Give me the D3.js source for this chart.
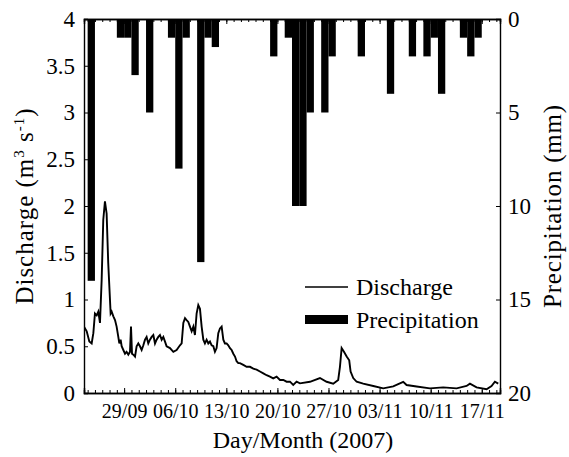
<!DOCTYPE html>
<html><head><meta charset="utf-8">
<script src="https://cdn.jsdelivr.net/npm/d3@7"></script>
<style>
html,body{margin:0;padding:0;background:#fff;}
svg text{font-family:"Liberation Serif","Tinos","Times New Roman","DejaVu Serif",serif;fill:#000;}
</style></head>
<body><svg id="c" width="569" height="457"></svg>
<script>
// ---- data ----
const precipDates = ["2007-09-24","2007-09-28","2007-09-29","2007-09-30","2007-10-02","2007-10-05","2007-10-06","2007-10-07","2007-10-09","2007-10-10","2007-10-11","2007-10-19","2007-10-21","2007-10-22","2007-10-23","2007-10-24","2007-10-26","2007-10-27","2007-10-31","2007-11-04","2007-11-07","2007-11-09","2007-11-10","2007-11-11","2007-11-14","2007-11-15","2007-11-16"];
const precipMm = [14,1,1,3,5,1,8,1,13,1,1.5,2,1,10,10,5,5,2,2,4,2,2,1,4,1,2,1];
// discharge: days since 2007-09-24 00:00
const dischargeDay = [-0.5,-0.13,0.23,0.55,0.78,1.0,1.24,1.46,1.69,1.92,2.14,2.37,2.6,2.82,3.15,
 3.29,3.52,3.75,3.97,4.2,4.34,4.52,4.66,4.89,5.12,5.34,5.57,5.8,5.94,6.08,6.26,6.49,6.71,6.94,7.17,7.4,7.63,7.86,8.08,8.31,8.54,8.77,9.0,9.23,9.45,9.68,9.91,10.14,10.37,10.6,10.82,11.28,11.74,12.19,12.65,12.88,13.11,13.34,13.56,13.79,14.02,14.25,14.48,14.7,14.93,15.16,15.39,15.62,15.85,16.07,16.3,16.53,16.76,16.99,17.22,17.44,17.67,17.9,18.13,18.36,18.59,18.81,19.04,19.27,19.5,19.73,19.96,20.19,20.41,20.64,20.87,21.33,21.78,22.24,22.7,23.15,23.61,24.07,24.52,24.98,25.43,25.89,26.35,26.81,27.26,27.72,28.17,28.63,29.09,
 30.46,31.83,32.74,33.65,34.33,34.57,34.8,35.12,35.49,35.84,36.03,36.39,36.86,37.76,39.13,40.5,41.87,43.24,43.7,45.07,46.9,48.72,50.55,51.92,52.38,53.29,54.66,55.34,55.8,56.26];
const dischargeValue = [0.71,0.66,0.55,0.53,0.64,0.85,0.83,0.87,0.75,1.21,1.85,2.05,1.92,1.39,0.85,
 0.87,0.82,0.78,0.71,0.6,0.53,0.57,0.5,0.46,0.42,0.44,0.41,0.44,0.71,0.42,0.41,0.39,0.5,0.53,0.5,0.46,0.51,0.57,0.6,0.53,0.57,0.6,0.62,0.53,0.57,0.6,0.62,0.57,0.6,0.55,0.5,0.48,0.44,0.46,0.51,0.53,0.75,0.8,0.78,0.76,0.71,0.66,0.71,0.62,0.85,0.94,0.9,0.71,0.57,0.53,0.57,0.53,0.55,0.51,0.5,0.44,0.48,0.64,0.69,0.71,0.57,0.53,0.53,0.51,0.48,0.46,0.42,0.39,0.34,0.32,0.32,0.3,0.28,0.28,0.26,0.25,0.23,0.21,0.19,0.175,0.157,0.175,0.139,0.139,0.121,0.121,0.086,0.121,0.103,
 0.12,0.16,0.12,0.1,0.14,0.28,0.48,0.44,0.39,0.35,0.23,0.16,0.12,0.1,0.075,0.05,0.07,0.12,0.085,0.07,0.05,0.06,0.05,0.075,0.1,0.06,0.04,0.075,0.12,0.1];
const labelDates = ["2007-09-29","2007-10-06","2007-10-13","2007-10-20","2007-10-27","2007-11-03","2007-11-10","2007-11-17"];
const dischargeTicks = [0,0.5,1,1.5,2,2.5,3,3.5,4];
const precipTicks = [0,5,10,15,20];

// ---- layout ----
const L=84,R=500,T=19,B=393;
const svg=d3.select("#c");
const parse=d3.utcParse("%Y-%m-%d");
const base=Date.UTC(2007,8,24);
const x=d3.scaleUtc().domain([new Date(Date.UTC(2007,8,23,12)),new Date(Date.UTC(2007,10,19,12))]).range([L,R]);
const y=d3.scaleLinear().domain([0,4]).range([B,T]);
const yP=d3.scaleLinear().domain([0,20]).range([T,B]);

svg.append("clipPath").attr("id","pc").append("rect").attr("x",L).attr("y",T).attr("width",R-L).attr("height",B-T);

// bars
svg.append("g").attr("clip-path","url(#pc)").selectAll("rect").data(precipDates.map((d,i)=>({d:parse(d),v:precipMm[i]})))
  .join("rect")
  .attr("x",d=>x(d.d)).attr("width",d=>x(d3.utcDay.offset(d.d,1))-x(d.d))
  .attr("y",yP(0)).attr("height",d=>yP(d.v)-yP(0)).attr("fill","#000");

// line
const pts=dischargeDay.map((d,i)=>({t:new Date(base+d*864e5),v:dischargeValue[i]}));
svg.append("path").attr("clip-path","url(#pc)").datum(pts)
  .attr("d",d3.line().x(d=>x(d.t)).y(d=>y(d.v)))
  .attr("fill","none").attr("stroke","#000").attr("stroke-width",1.9).attr("stroke-linejoin","miter");

// axes
svg.append("g").attr("transform",`translate(0,${B})`)
  .call(d3.axisBottom(x).ticks(d3.utcDay.every(1)).tickSize(-3).tickFormat(""));
const gx2=svg.append("g").attr("transform",`translate(0,${B})`)
  .call(d3.axisBottom(x).tickValues(labelDates.map(parse)).tickSize(-5).tickPadding(11).tickFormat(d3.utcFormat("%d/%m")));
gx2.selectAll("text").style("font-size","20px");
svg.append("g").attr("transform",`translate(0,${T})`)
  .call(d3.axisTop(x).ticks(d3.utcDay.every(1)).tickSize(-3).tickFormat(""));
svg.append("g").attr("transform",`translate(0,${T})`)
  .call(d3.axisTop(x).tickValues(labelDates.map(parse)).tickSize(-5).tickFormat(""));
const gy=svg.append("g").attr("transform",`translate(${L},0)`)
  .call(d3.axisLeft(y).tickValues(dischargeTicks).tickSize(-4).tickPadding(9).tickFormat(d=>String(d)));
gy.selectAll("text").style("font-size","23px");
const gr=svg.append("g").attr("transform",`translate(${R},0)`)
  .call(d3.axisRight(yP).tickValues(precipTicks).tickSize(-4).tickPadding(8).tickFormat(d=>String(d)));
gr.selectAll("text").style("font-size","23px");
svg.selectAll(".domain").attr("stroke","#000").attr("stroke-width",1.4);
svg.selectAll(".tick line").attr("stroke","#000");
svg.selectAll("g").attr("font-family",null);

// titles
svg.append("text").attr("x",303).attr("y",448).attr("text-anchor","middle").style("font-size","24px").text("Day/Month (2007)");
const lt=svg.append("text").attr("transform","translate(33,206) rotate(-90)").attr("text-anchor","middle").style("font-size","25px").style("letter-spacing","1px");
lt.append("tspan").text("Discharge (m");
lt.append("tspan").attr("dy",-9).style("font-size","15px").text("3");
lt.append("tspan").attr("dy",9).text(" s");
lt.append("tspan").attr("dy",-9).style("font-size","15px").text("-1");
lt.append("tspan").attr("dy",9).text(")");
svg.append("text").attr("transform","translate(561,206) rotate(-90)").attr("text-anchor","middle").style("font-size","25px").style("letter-spacing","0.8px").text("Precipitation (mm)");

// legend
svg.append("line").attr("x1",305).attr("x2",348).attr("y1",287).attr("y2",287).attr("stroke","#000").attr("stroke-width",1.7);
svg.append("text").attr("x",356).attr("y",295).style("font-size","24px").text("Discharge");
svg.append("rect").attr("x",305).attr("y",315).attr("width",43).attr("height",9).attr("fill","#000");
svg.append("text").attr("x",356).attr("y",328).style("font-size","24px").text("Precipitation");
</script></body></html>
